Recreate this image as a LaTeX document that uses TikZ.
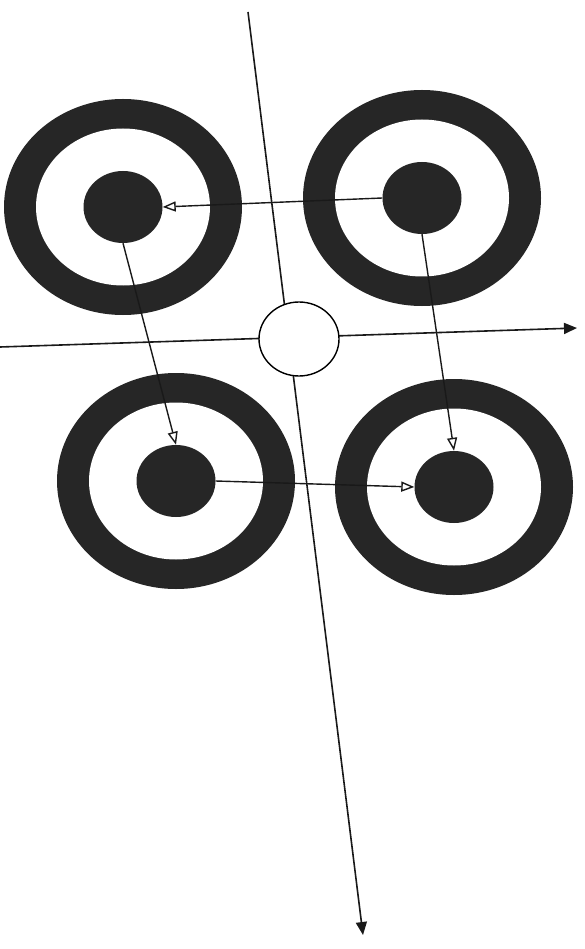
\documentclass[tikz,border=0pt]{standalone}
\usetikzlibrary{arrows.meta,shapes.geometric}

\begin{document}
\begin{tikzpicture}[
  x=1pt, y=-1pt,
  ring/.style={ellipse, fill=black!85, inner sep=0pt, minimum width=238pt, minimum height=216pt},
  gap/.style={ellipse, fill=white, inner sep=0pt, minimum width=174pt, minimum height=157pt},
  dot/.style={ellipse, fill=black!85, inner sep=0pt, minimum width=79pt, minimum height=72pt},
  hub/.style={ellipse, draw=black, fill=white, line width=1.4pt, inner sep=0pt,
              minimum width=80pt, minimum height=74pt},
  axis/.style={draw=black!90, line width=1.6pt, -{Triangle[length=13pt, width=11pt]}},
  link/.style={draw=black!90, line width=1.4pt, -{Triangle[open, length=13pt, width=10pt, fill=white]}}
]
\fill[white] (0,0) rectangle (584,949);
\useasboundingbox (0,0) rectangle (584,949);

% axes behind the centre circle
\coordinate (xl) at (0,347);
\coordinate (xr) at (577,328);
\coordinate (yt) at (248,12);
\coordinate (yb) at (363,935);
\draw[axis] (xl) -- (xr);
\draw[axis] (yt) -- (yb);
\node[hub] (hub) at (299,339) {};

% the four targets
\foreach \n/\x/\y in {tl/123/207, tr/422/198, bl/176/481, br/454/487}{
  \node[ring] (\n-ring) at (\x,\y) {};
  \node[gap] (\n-gap) at (\x,\y) {};
  \node[dot] (\n-dot) at (\x,\y) {};
}

% links between the centres
\draw[link] (tr-dot.west) -- (tl-dot.east);
\draw[link] (tl-dot.south) -- (bl-dot.north);
\draw[link] (tr-dot.south) -- (br-dot.north);
\draw[link] (bl-dot.east) -- (br-dot.west);
\end{tikzpicture}
\end{document}
